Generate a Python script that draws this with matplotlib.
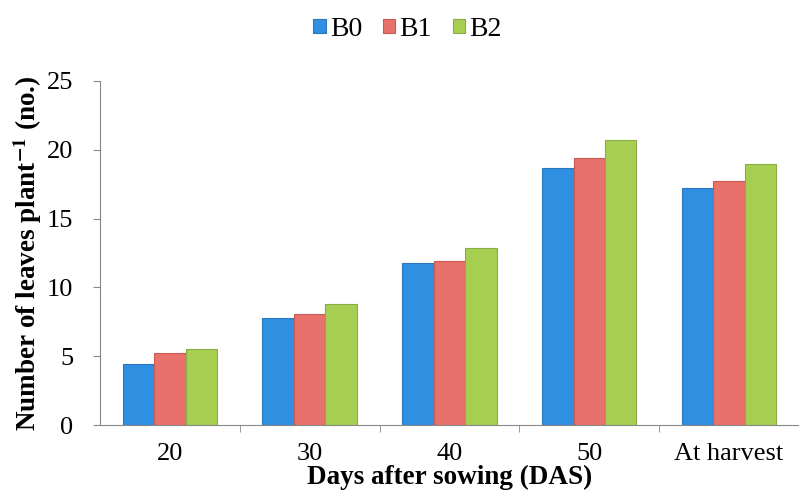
import numpy as np
import matplotlib
matplotlib.use('Agg')
import matplotlib.pyplot as plt
from matplotlib.ticker import FixedLocator

categories = ['20', '30', '40', '50', 'At harvest']
b0 = [4.4, 7.8, 11.8, 18.7, 17.2]
b1 = [5.2, 8.1, 11.9, 19.4, 17.7]
b2 = [5.5, 8.8, 12.9, 20.7, 19.0]
series = ['B0', 'B1', 'B2']
colors = ['#2f8fe0', '#e8716b', '#a6cf52']
edges = ['#2b78bd', '#c85a55', '#8cab45']

plt.rcParams['font.family'] = ['Liberation Serif', 'DejaVu Serif']
plt.rcParams['mathtext.fontset'] = 'stix'

fig = plt.figure(figsize=(7.99, 5.03), dpi=100)
ax = fig.add_axes([0.125, 0.155, 0.875, 0.684])

x = np.arange(len(categories))
w = 0.225
for i, (vals, name) in enumerate(zip([b0, b1, b2], series)):
    ax.bar(x + (i - 1) * w, vals, w, color=colors[i], edgecolor=edges[i],
           linewidth=0.8, label=name)

ax.set_xlim(-0.5, 4.5)
ax.set_ylim(0, 25)
ax.set_yticks([0, 5, 10, 15, 20, 25])
ax.set_xticks(x)
ax.set_xticklabels(categories)
ax.xaxis.set_minor_locator(FixedLocator(x[:-1] + 0.5))
ax.tick_params(axis='x', which='major', length=0, labelsize=19, pad=13)
ax.tick_params(axis='x', which='minor', length=5, color='#888888', direction='out')
ax.tick_params(axis='y', labelsize=19, length=5, color='#888888', pad=14)
for s in ['top', 'right']:
    ax.spines[s].set_visible(False)
for s in ['left', 'bottom']:
    ax.spines[s].set_color('#888888')

ax.set_ylabel('Number of leaves plant$^{\\mathbf{-1}}$ (no.)', fontsize=19.5,
              fontweight='bold', labelpad=2)
ax.set_xlabel('Days after sowing (DAS)', fontsize=19.5, fontweight='bold', labelpad=0)

ax.legend(loc='center', bbox_to_anchor=(0.44, 1.15), ncol=3, frameon=False,
          fontsize=20, handlelength=0.45, handleheight=0.45, handletextpad=0.15,
          columnspacing=0.75)

fig.savefig('out.png', dpi=100)
